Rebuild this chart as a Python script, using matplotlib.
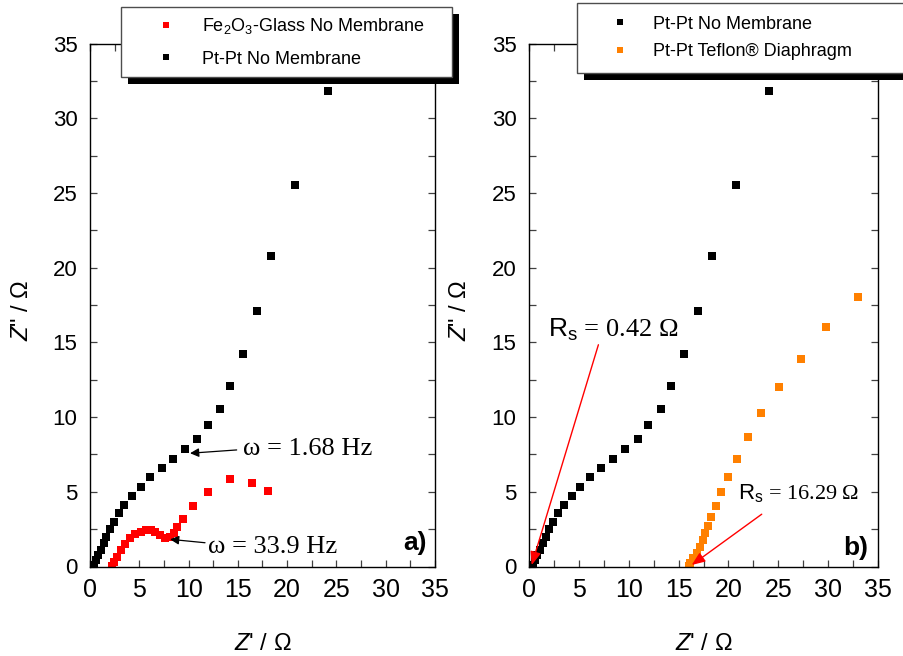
import numpy as np
import matplotlib
matplotlib.use('Agg')
import matplotlib.pyplot as plt
from matplotlib.ticker import MultipleLocator
from matplotlib.patches import Rectangle
from matplotlib.transforms import IdentityTransform

# Pt-Pt, no membrane (same curve in both panels)
blk_x = [0.37, 0.6, 0.84, 1.1, 1.37, 1.67, 2.04, 2.44, 2.94, 3.5, 4.27, 5.14, 6.12,
         7.27, 8.45, 9.67, 10.9, 11.95, 13.2, 14.2, 15.5, 16.9, 18.4, 20.8, 24.1]
blk_y = [0.1, 0.44, 0.77, 1.1, 1.55, 2.0, 2.51, 3.0, 3.56, 4.1, 4.72, 5.35, 5.97,
         6.58, 7.2, 7.85, 8.54, 9.48, 10.55, 12.1, 14.2, 17.1, 20.75, 25.5, 31.8]
# Fe2O3-Glass, no membrane
red_x = [2.2, 2.47, 2.77, 3.11, 3.55, 4.06, 4.57, 5.14, 5.65, 6.15, 6.6, 7.1, 7.6,
         8.1, 8.56, 8.86, 9.47, 10.5, 12.0, 14.2, 16.4, 18.1]
red_y = [0.03, 0.32, 0.66, 1.1, 1.51, 1.89, 2.18, 2.33, 2.44, 2.44, 2.33, 2.11, 1.89,
         2.0, 2.22, 2.63, 3.16, 4.05, 5.0, 5.84, 5.6, 5.08]
# Pt-Pt, Teflon diaphragm
org_x = [16.05, 16.15, 16.48, 16.82, 17.15, 17.42, 17.69, 17.95, 18.28, 18.72, 19.26,
         19.93, 20.83, 21.93, 23.3, 25.04, 27.25, 29.76, 32.97]
org_y = [0.05, 0.25, 0.55, 0.88, 1.33, 1.77, 2.22, 2.73, 3.34, 4.07, 4.99,
         6.02, 7.22, 8.65, 10.24, 12.04, 13.88, 16.0, 18.03]

lab_blk = 'Pt-Pt No Membrane'
lab_red = r'Fe$_\mathregular{2}$O$_\mathregular{3}$-Glass No Membrane'
lab_org = 'Pt-Pt Teflon® Diaphragm'

plt.rcParams['font.family'] = ['Liberation Sans', 'DejaVu Sans']
plt.rcParams['mathtext.fontset'] = 'custom'
plt.rcParams['mathtext.rm'] = 'Liberation Sans'
plt.rcParams['mathtext.it'] = 'Liberation Sans:italic'

W, H = 904, 656
fig = plt.figure(figsize=(W / 100, H / 100), dpi=100)
axa = fig.add_axes([90 / W, 89.5 / H, 345 / W, 523 / H])
axb = fig.add_axes([529 / W, 89.5 / H, 349 / W, 523 / H])

ms = 6
axa.plot(blk_x, blk_y, 's', color='black', ms=ms, mew=0, label=lab_blk)
axa.plot(red_x, red_y, 's', color='#ff0000', ms=ms, mew=0, label=lab_red)
axb.plot(blk_x, blk_y, 's', color='black', ms=ms, mew=0, label=lab_blk)
axb.plot(org_x, org_y, 's', color='#ff8000', ms=ms, mew=0, label=lab_org)

for ax in (axa, axb):
    ax.set_xlim(0, 35)
    ax.set_ylim(0, 35)
    ax.xaxis.set_major_locator(MultipleLocator(5))
    ax.yaxis.set_major_locator(MultipleLocator(5))
    ax.xaxis.set_minor_locator(MultipleLocator(2.5))
    ax.yaxis.set_minor_locator(MultipleLocator(2.5))
    ax.tick_params(which='both', direction='in', top=True, right=True,
                   length=5, width=0.9, color='0.25')
    ax.tick_params(axis='y', which='major', labelsize=16, pad=9)
    ax.tick_params(axis='x', which='major', labelsize=18, pad=8)
    for s in ax.spines.values():
        s.set_linewidth(1.0)
    ax.set_xlabel(r"$Z$' / Ω", fontsize=17)
    ax.set_ylabel(r'$Z$" / Ω', fontsize=17)
    ax.xaxis.set_label_coords(0.5, -0.128)
    ax.yaxis.set_label_coords(-0.165, 0.49)

# annotations, panel a
serif = ['Liberation Serif', 'DejaVu Serif']
blk_arrow = dict(arrowstyle='-|>', color='black', lw=0.9, shrinkA=0, shrinkB=0,
                 mutation_scale=13)
red_arrow = dict(arrowstyle='-|>,head_length=0.5,head_width=0.2', color='red', lw=1.0,
                 shrinkA=0, shrinkB=0, mutation_scale=16)
axa.text(15.5, 7.87, 'ω = 1.68 Hz', family=serif, fontsize=19, ha='left', va='center')
axa.annotate('', xy=(10.15, 7.58), xytext=(14.88, 7.8), arrowprops=blk_arrow)
axa.text(11.97, 1.33, 'ω = 33.9 Hz', family=serif, fontsize=19, ha='left', va='center')
axa.annotate('', xy=(8.12, 1.82), xytext=(11.67, 1.59), arrowprops=blk_arrow)
axa.text(33.0, 1.54, 'a)', fontsize=19, fontweight='bold', ha='center', va='center')

# annotations, panel b
axb.text(1.9, 15.84, r'$\mathrm{R_s}$ = 0.42 Ω', family=serif, fontsize=19,
         ha='left', va='center')
axb.annotate('', xy=(0.27, 0.1), xytext=(6.96, 14.84), arrowprops=red_arrow, zorder=6)
axb.text(20.96, 4.9, r'$\mathrm{R_s}$ = 16.29 Ω', family=serif, fontsize=16,
         ha='left', va='center')
axb.annotate('', xy=(16.32, 0.1), xytext=(23.34, 3.5), arrowprops=red_arrow, zorder=6)
axb.text(32.8, 1.24, 'b)', fontsize=19, fontweight='bold', ha='center', va='center')

# legends (placed in figure pixels, Origin style black shadow)
h_a, l_a = axa.get_legend_handles_labels()
leg_a = axa.legend(h_a[::-1], l_a[::-1], loc='upper left',
                   bbox_to_anchor=(120.7 / W, 1 - 77.3 / H, 331 / W, 70 / H),
                   bbox_transform=fig.transFigure, mode='expand', borderaxespad=0,
                   fontsize=13, frameon=True, fancybox=False, framealpha=1,
                   edgecolor='0.3', handlelength=4.0, handletextpad=0.0,
                   labelspacing=0.8, borderpad=0.5, markerscale=0.8)
leg_b = axb.legend(loc='upper left',
                   bbox_to_anchor=(576.7 / W, 1 - 74 / H, 327 / W, 71 / H),
                   bbox_transform=fig.transFigure, mode='expand', borderaxespad=0,
                   fontsize=13, frameon=True, fancybox=False, framealpha=1,
                   edgecolor='0.3', handlelength=3.4, handletextpad=0.15,
                   labelspacing=0.6, borderpad=0.7, markerscale=0.8)
for leg in (leg_a, leg_b):
    leg.get_frame().set_linewidth(1.0)

fig.canvas.draw()
rend = fig.canvas.get_renderer()
for ax, leg in ((axa, leg_a), (axb, leg_b)):
    bb = leg.get_window_extent(rend)
    sh = Rectangle((bb.x0 + 7, bb.y0 - 7), bb.width, bb.height, transform=IdentityTransform(),
                   facecolor='black', edgecolor='none', zorder=4.9, clip_on=False)
    ax.add_artist(sh)

fig.savefig('out.png', dpi=100)
